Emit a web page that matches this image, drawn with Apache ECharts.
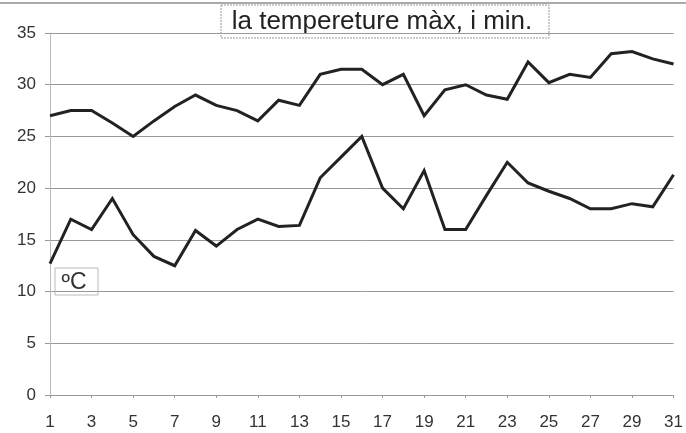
<!DOCTYPE html>
<html><head><meta charset="utf-8">
<script src="https://cdn.jsdelivr.net/npm/echarts@6/dist/echarts.min.js"></script>
<style>html,body{margin:0;padding:0;background:#fff}#c{width:686px;height:433px}</style>
</head><body><div id="c"></div>
<script>
const days = [1,2,3,4,5,6,7,8,9,10,11,12,13,14,15,16,17,18,19,20,21,22,23,24,25,26,27,28,29,30,31];
const tMax = [27,27.5,27.5,26.3,25,26.5,27.9,29,28,27.5,26.5,28.5,28,31,31.5,31.5,30,31,27,29.5,30,29,28.6,32.2,30.2,31,30.7,33,33.2,32.5,32];
const tMin = [12.7,17,16,19,15.5,13.4,12.5,15.9,14.4,16,17,16.3,16.4,21,23,25,20,18,21.7,16,16,19.3,22.5,20.5,19.7,19,18,18,18.5,18.2,21.3];
const yTicks = [0,5,10,15,20,25,30,35];
const titleText = 'la tempereture màx, i min.';
const unitText = 'ºC';

const chart = echarts.init(document.getElementById('c'));
const lineStyle = {color:'#222', width:3, join:'miter'};
chart.setOption({
  backgroundColor:'#fff',
  animation:false,
  grid:{left:50, right:9, top:33, bottom:38},
  xAxis:{type:'category', data:days.map(String), boundaryGap:false,
    axisLine:{lineStyle:{color:'#999', width:1}},
    axisTick:{show:true, length:3, lineStyle:{color:'#999'}},
    axisLabel:{interval:1, color:'#333', fontFamily:'Liberation Sans', fontSize:17, margin:19}
  },
  yAxis:{type:'value', min:yTicks[0], max:yTicks[yTicks.length-1], interval:5,
    axisLine:{show:true, lineStyle:{color:'#bbb'}},
    axisTick:{show:true, length:5, lineStyle:{color:'#999'}},
    axisLabel:{color:'#333', fontFamily:'Liberation Sans', fontSize:17, margin:14},
    splitLine:{show:true, lineStyle:{color:'#999', width:1}}
  },
  series:[
    {type:'line', data:tMax, symbol:'none', lineStyle:lineStyle},
    {type:'line', data:tMin, symbol:'none', lineStyle:lineStyle}
  ],
  graphic:[
    {type:'line', shape:{x1:0,y1:3,x2:686,y2:3}, style:{stroke:'#aaa', lineWidth:2}},
    {type:'rect', shape:{x:221,y:5,width:328,height:33}, style:{fill:'#fff', stroke:'#999', lineWidth:1, lineDash:[2,1]}},
    {type:'text', x:382, y:22, style:{text:titleText, fill:'#222', font:'26px "Liberation Sans"', textAlign:'center', textVerticalAlign:'middle'}},
    {type:'rect', shape:{x:55,y:268,width:43,height:27}, style:{fill:'#fff', stroke:'#bbb', lineWidth:1}},
    {type:'text', x:74, y:283, style:{text:unitText, fill:'#333', font:'23px "Liberation Sans"', textAlign:'center', textVerticalAlign:'middle'}}
  ]
});
</script></body></html>
